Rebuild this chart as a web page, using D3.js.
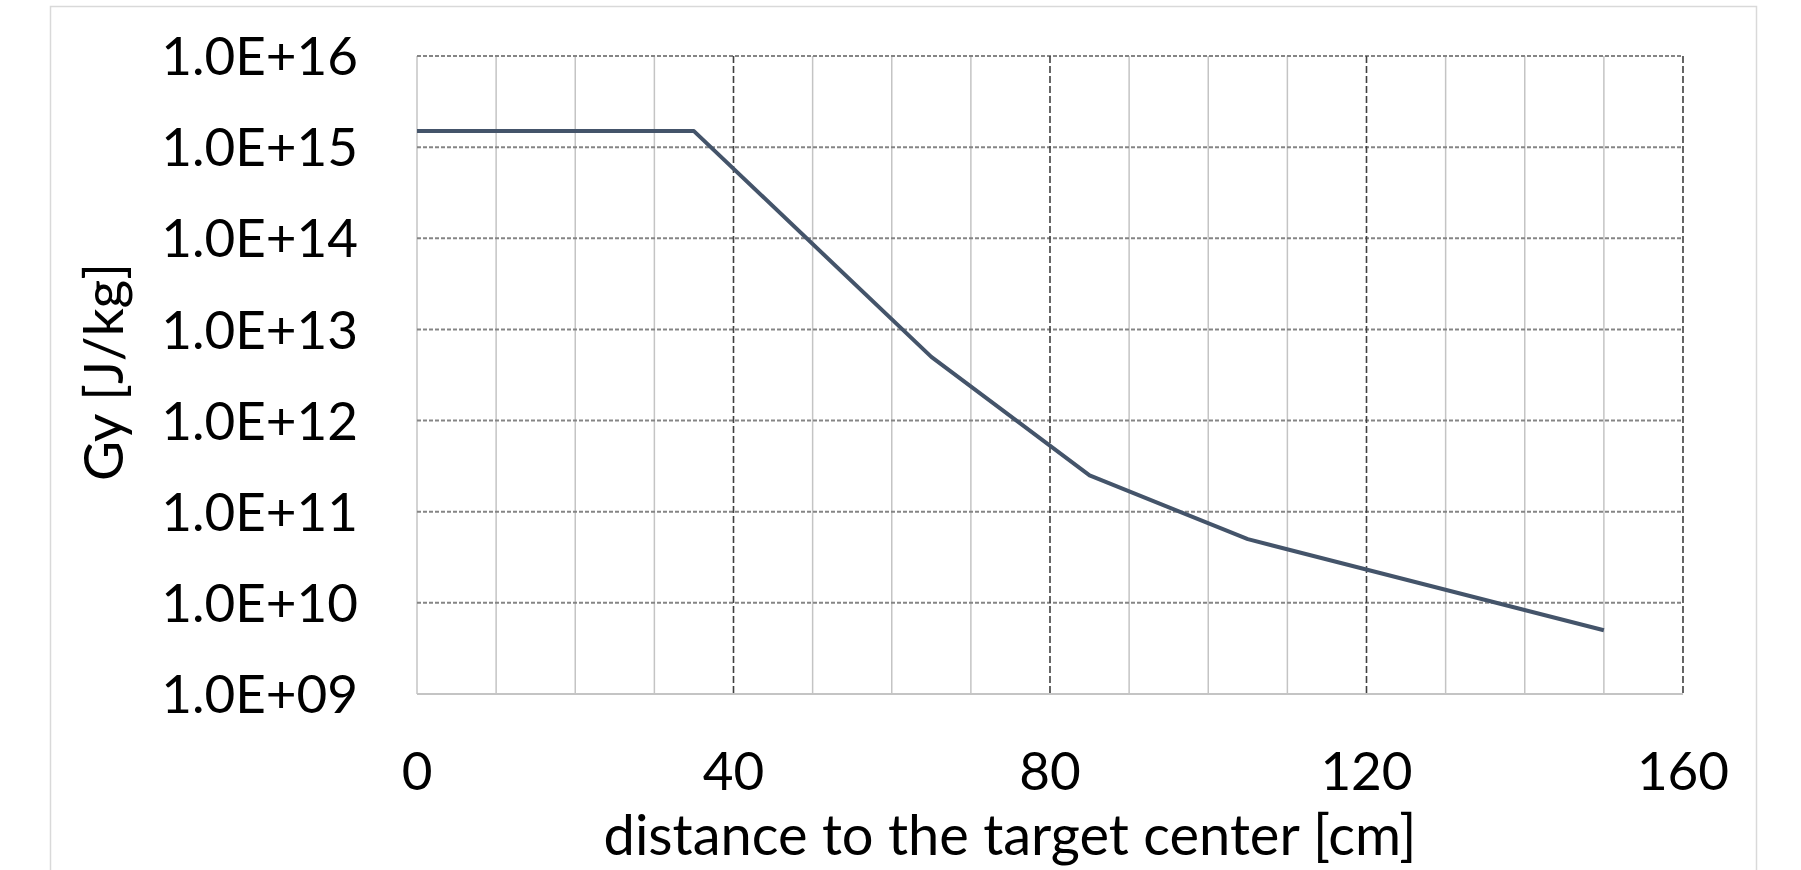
<!DOCTYPE html>
<html>
<head>
<meta charset="utf-8">
<script src="https://cdn.jsdelivr.net/npm/d3@7"></script>
<style>
  body { margin: 0; background: #fff; }
  text { font-family: Lato, "Open Sans", sans-serif; fill: #000; }
</style>
</head>
<body>
<div id="chart"></div>
<script>
const width = 1801;
const height = 870;

// distance to the target center [cm]
const distance = [0, 35, 65, 85, 105, 150];
// dose [Gy]
const dose = [1.5e15, 1.5e15, 5e12, 2.5e11, 5e10, 5e9];

const xTicks = [0, 40, 80, 120, 160];
const xMinor = d3.range(0, 161, 10);
const yTicks = [1e9, 1e10, 1e11, 1e12, 1e13, 1e14, 1e15, 1e16];

const plot = {left: 417, right: 1683, top: 56, bottom: 694};

let svg = d3.select('#chart')
    .append('svg')
    .attr('width', width)
    .attr('height', height);

// chart area border
svg.append('rect')
    .attr('x', 50.5).attr('y', 6.5)
    .attr('width', 1706).attr('height', 900)
    .attr('fill', 'white')
    .attr('stroke', '#d9d9d9')
    .attr('stroke-width', 1.5);

let x = d3.scaleLinear().domain([0, 160]).range([plot.left, plot.right]);
let y = d3.scaleLog().domain([1e9, 1e16]).range([plot.bottom, plot.top]);

// minor vertical grid
svg.append('g').selectAll('line')
    .data(xMinor.filter(d => d % 40 !== 0))
    .enter().append('line')
    .attr('x1', d => x(d)).attr('x2', d => x(d))
    .attr('y1', plot.top).attr('y2', plot.bottom)
    .attr('stroke', '#c4c4c4')
    .attr('stroke-width', 1.5);

// left axis line
svg.append('line')
    .attr('x1', x(0)).attr('x2', x(0))
    .attr('y1', plot.top).attr('y2', plot.bottom)
    .attr('stroke', '#c4c4c4')
    .attr('stroke-width', 1.5);

// horizontal grid (dashed)
svg.append('g').selectAll('line')
    .data(yTicks.slice(1))
    .enter().append('line')
    .attr('x1', plot.left).attr('x2', plot.right)
    .attr('y1', d => y(d)).attr('y2', d => y(d))
    .attr('stroke', '#858585')
    .attr('stroke-width', 2)
    .attr('stroke-dasharray', '4,2');

// major vertical grid (dashed)
svg.append('g').selectAll('line')
    .data(xTicks.slice(1))
    .enter().append('line')
    .attr('x1', d => x(d)).attr('x2', d => x(d))
    .attr('y1', plot.top).attr('y2', plot.bottom)
    .attr('stroke', '#404040')
    .attr('stroke-width', 1.6)
    .attr('stroke-dasharray', '7,3');

// bottom axis line
svg.append('line')
    .attr('x1', plot.left).attr('x2', plot.right)
    .attr('y1', plot.bottom).attr('y2', plot.bottom)
    .attr('stroke', '#c4c4c4')
    .attr('stroke-width', 2);

// y tick labels
let fmt = d => '1.0E+' + String(Math.round(Math.log10(d))).padStart(2, '0');
svg.append('g').selectAll('text')
    .data(yTicks)
    .enter().append('text')
    .attr('x', 358)
    .attr('y', d => y(d))
    .attr('dy', '0.36em')
    .attr('text-anchor', 'end')
    .style('font-size', '53px')
    .text(fmt);

// x tick labels
svg.append('g').selectAll('text')
    .data(xTicks)
    .enter().append('text')
    .attr('x', d => x(d))
    .attr('y', 790)
    .attr('text-anchor', 'middle')
    .style('font-size', '53px')
    .text(d => d);

// axis titles
svg.append('text')
    .attr('x', 1010)
    .attr('y', 855)
    .attr('text-anchor', 'middle')
    .style('font-size', '56px')
    .text('distance to the target center [cm]');

svg.append('text')
    .attr('transform', 'translate(123, 372) rotate(-90)')
    .attr('text-anchor', 'middle')
    .style('font-size', '55px')
    .text('Gy [J/kg]');

// data line
let line = d3.line()
    .x((d, i) => x(distance[i]))
    .y(d => y(d));

svg.append('path')
    .datum(dose)
    .attr('d', line)
    .attr('fill', 'none')
    .attr('stroke', '#44546a')
    .attr('stroke-width', 4)
    .attr('stroke-linejoin', 'round');
</script>
</body>
</html>
